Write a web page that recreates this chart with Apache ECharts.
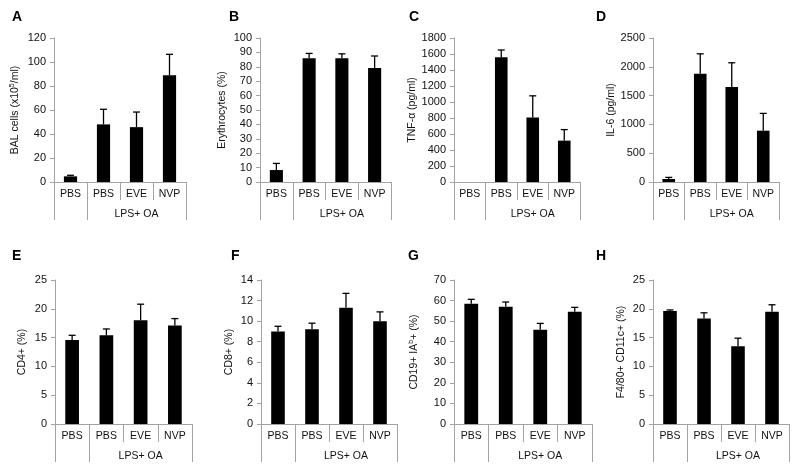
<!DOCTYPE html>
<html>
<head>
<meta charset="utf-8">
<script src="https://cdn.jsdelivr.net/npm/echarts@6/dist/echarts.min.js"></script>
<style>html,body{margin:0;padding:0;background:#fff}#c{width:800px;height:471px}</style>
</head>
<body>
<div id="c"></div>
<script>
// ---- data ----
const categories = ['PBS', 'PBS', 'EVE', 'NVP'];
const groupLabels = ['', '', 'LPS+ OA', ''];
const panelLetters = ['A', 'B', 'C', 'D', 'E', 'F', 'G', 'H'];
const yNames = ['BAL cells (x10{sup|5}/ml)', 'Erythrocytes (%)', 'TNF-\u03b1 (pg/ml)', 'IL-6 (pg/ml)',
  'CD4+ (%)', 'CD8+ (%)', 'CD19+ IA{sup|b}+ (%)', 'F4/80+ CD11c+ (%)'];
const yMax = [120, 100, 1800, 2500, 25, 14, 70, 25];
const yStep = [20, 10, 200, 500, 5, 2, 10, 5];

const meanA = [4.7, 48, 45.7, 88.9];    const errA = [0.9, 12.6, 12.6, 17.5];
const meanB = [8.3, 85.9, 85.9, 79.2];  const errB = [4.6, 3.4, 3.1, 8.3];
const meanC = [0, 1560, 805, 517];      const errC = [0, 90, 272, 138];
const meanD = [52, 1880, 1650, 891];    const errD = [28, 345, 420, 300];
const meanE = [14.6, 15.4, 18.0, 17.1]; const errE = [0.8, 1.1, 2.8, 1.2];
const meanF = [9.0, 9.2, 11.3, 10.0];   const errF = [0.5, 0.6, 1.4, 0.9];
const meanG = [58.4, 57.0, 45.8, 54.6]; const errG = [2.2, 2.3, 3.1, 2.1];
const meanH = [19.6, 18.3, 13.5, 19.5]; const errH = [0.2, 1.0, 1.4, 1.2];

const means = [meanA, meanB, meanC, meanD, meanE, meanF, meanG, meanH];
const errs = [errA, errB, errC, errD, errE, errF, errG, errH];

// ---- layout (pixels) ----
const layout = [
  {left: 54, top: 38, width: 132, height: 144, gap: 33, lx: 12, ly: 10},
  {left: 260, top: 38, width: 131, height: 144, gap: 32, lx: 229, ly: 10},
  {left: 454, top: 38, width: 126, height: 144, gap: 36, lx: 409, ly: 10},
  {left: 653, top: 38, width: 126, height: 144, gap: 35, lx: 596, ly: 10},
  {left: 55, top: 280, width: 137, height: 144, gap: 27, lx: 12, ly: 249},
  {left: 261, top: 280, width: 136, height: 144, gap: 26, lx: 231, ly: 249},
  {left: 454, top: 280, width: 138, height: 144, gap: 34, lx: 408, ly: 249},
  {left: 653, top: 280, width: 136, height: 144, gap: 26, lx: 596, ly: 249}
];

const FONT = 'Liberation Sans, Arial, sans-serif';
const GREY = '#a3a3a3';
const TXT = '#111';

const grid = [], xAxis = [], yAxis = [], series = [], title = [];
layout.forEach((L, i) => {
  grid.push({left: L.left, top: L.top, width: L.width, height: L.height, containLabel: false});
  title.push({text: panelLetters[i], left: L.lx, top: L.ly, padding: 0,
    textStyle: {fontFamily: FONT, fontSize: 14, fontWeight: 'bold', color: '#000'}});
  xAxis.push({
    type: 'category', gridIndex: i, position: 'bottom', data: categories,
    axisLine: {show: true, lineStyle: {color: GREY, width: 1}},
    axisTick: {show: true, length: 18, interval: 0, lineStyle: {color: GREY}},
    axisLabel: {interval: 0, margin: 7, fontFamily: FONT, fontSize: 10.5, color: TXT},
    splitLine: {show: false}
  });
  xAxis.push({
    type: 'category', gridIndex: i, position: 'bottom', data: groupLabels,
    axisLine: {show: false},
    axisTick: {show: true, length: 38, interval: function (idx) { return idx <= 1; }, lineStyle: {color: GREY}},
    axisLabel: {interval: 0, margin: 27, fontFamily: FONT, fontSize: 10.5, color: TXT},
    splitLine: {show: false}
  });
  yAxis.push({
    type: 'value', gridIndex: i, min: 0, max: yMax[i], interval: yStep[i],
    name: yNames[i], nameLocation: 'middle', nameGap: L.gap, nameRotate: 90,
    nameTextStyle: {fontFamily: FONT, fontSize: 10.5, color: TXT,
      rich: {sup: {fontFamily: FONT, fontSize: 7, color: TXT, verticalAlign: 'top', padding: [0, 0, 5, 0]}}},
    axisLine: {show: true, lineStyle: {color: GREY, width: 1}},
    axisTick: {show: true, length: 4, lineStyle: {color: GREY}},
    axisLabel: {margin: 8, fontFamily: FONT, fontSize: 11, color: TXT,
      formatter: function (v) { return String(v); }},
    splitLine: {show: false}
  });
  series.push({
    type: 'bar', xAxisIndex: 2 * i, yAxisIndex: i, barWidth: '40%',
    itemStyle: {color: '#000'}, data: means[i], silent: true
  });
  const ebData = [];
  means[i].forEach((m, k) => { if (errs[i][k] > 0) ebData.push([k, m, m + errs[i][k]]); });
  series.push({
    type: 'custom', xAxisIndex: 2 * i, yAxisIndex: i, silent: true,
    data: ebData,
    renderItem: function (params, api) {
      const p1 = api.coord([api.value(0), api.value(1)]);
      const p2 = api.coord([api.value(0), api.value(2)]);
      const st = {stroke: '#000', lineWidth: 1.3};
      return {type: 'group', children: [
        {type: 'line', shape: {x1: p1[0], y1: p1[1], x2: p2[0], y2: p2[1]}, style: st},
        {type: 'line', shape: {x1: p2[0] - 3.5, y1: p2[1], x2: p2[0] + 3.5, y2: p2[1]}, style: st}
      ]};
    }
  });
});

const chart = echarts.init(document.getElementById('c'), null, {renderer: 'canvas'});
chart.setOption({animation: false, backgroundColor: '#fff', title, grid, xAxis, yAxis, series});
</script>
</body>
</html>
